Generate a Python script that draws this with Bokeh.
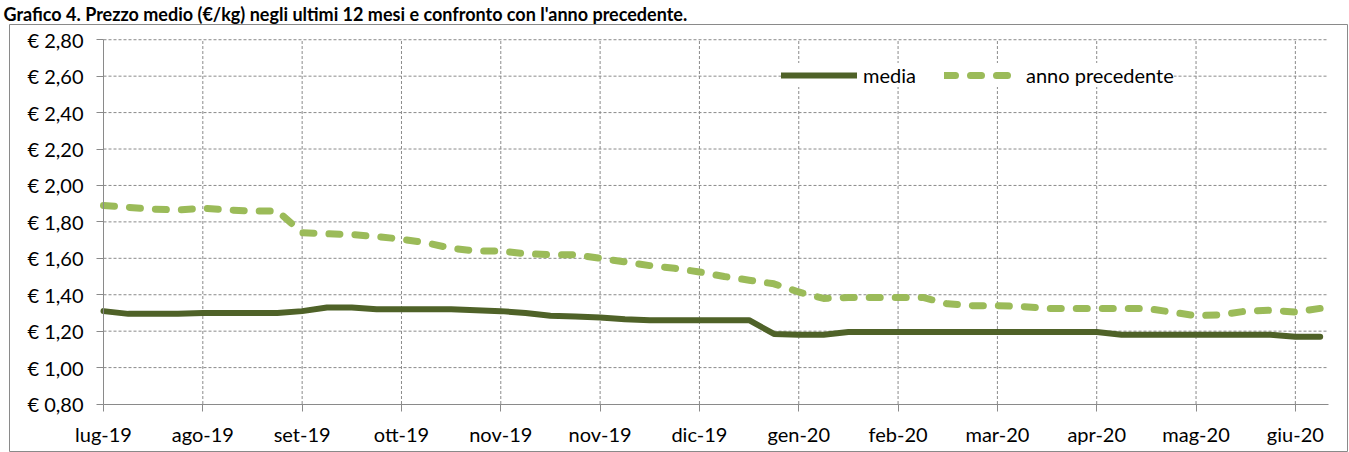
from bokeh.plotting import figure
from bokeh.models import Range1d, FixedTicker, CustomJSTickFormatter, Legend, LegendItem, Title
from bokeh.embed import file_html
from bokeh.resources import INLINE

# ---------------- data ----------------
title_text = "Grafico 4. Prezzo medio  (€/kg) negli ultimi 12 mesi e confronto con l'anno precedente."
x_tick_pos = [0, 4, 8, 12, 16, 20, 24, 28, 32, 36, 40, 44, 48]
x_labels = ["lug-19", "ago-19", "set-19", "ott-19", "nov-19", "nov-19", "dic-19",
            "gen-20", "feb-20", "mar-20", "apr-20", "mag-20", "giu-20"]
y_ticks = [0.8, 1.0, 1.2, 1.4, 1.6, 1.8, 2.0, 2.2, 2.4, 2.6, 2.8]
weeks = list(range(50))
media = [1.31, 1.295, 1.295, 1.295, 1.30, 1.30, 1.30, 1.30, 1.31, 1.33,
         1.33, 1.32, 1.32, 1.32, 1.32, 1.315, 1.31, 1.30, 1.285, 1.28,
         1.275, 1.265, 1.26, 1.26, 1.26, 1.26, 1.26, 1.185, 1.18, 1.18,
         1.195, 1.195, 1.195, 1.195, 1.195, 1.195, 1.195, 1.195, 1.195, 1.195,
         1.195, 1.18, 1.18, 1.18, 1.18, 1.18, 1.18, 1.18, 1.17, 1.17]
anno_precedente = [1.89, 1.88, 1.87, 1.865, 1.875, 1.865, 1.86, 1.86, 1.74, 1.735,
                   1.73, 1.72, 1.705, 1.685, 1.655, 1.64, 1.64, 1.625, 1.62, 1.62,
                   1.60, 1.58, 1.56, 1.545, 1.525, 1.50, 1.48, 1.46, 1.415, 1.38,
                   1.385, 1.385, 1.385, 1.385, 1.35, 1.34, 1.34, 1.335, 1.325, 1.325,
                   1.325, 1.325, 1.325, 1.305, 1.285, 1.29, 1.31, 1.315, 1.305, 1.325]
series_names = ["media", "anno precedente"]

# plot-area extent (data units)
X_END = 49.33
Y_MIN, Y_MAX = 0.8, 2.8

FONT = "Lato"
GRID = "#8a8a8a"

# the frame acts as the outer box of the chart; axes sit inside it
p = figure(width=1349, height=452, output_backend="svg", toolbar_location=None,
           x_range=Range1d(-3.786, 50.10), y_range=Range1d(0.5339, 2.8836),
           min_border_left=9, min_border_right=2, min_border_top=22,
           min_border_bottom=0)
p.outline_line_color = GRID
p.outline_line_width = 1
p.background_fill_color = "white"
p.border_fill_color = "white"
p.xgrid.visible = False
p.ygrid.visible = False

# title in the strip above the chart box
p.title = Title(text=title_text, align="left", offset=-6, standoff=0,
                text_font=FONT, text_font_style="bold", text_font_size="18px",
                text_color="black")

# dashed gridlines limited to the plot area
p.segment(x0=[0] * (len(y_ticks) - 1), y0=y_ticks[1:],
          x1=[X_END] * (len(y_ticks) - 1), y1=y_ticks[1:],
          line_color=GRID, line_width=1, line_dash="3 2")
p.segment(x0=x_tick_pos[1:], y0=[Y_MIN] * (len(x_tick_pos) - 1),
          x1=x_tick_pos[1:], y1=[Y_MAX] * (len(x_tick_pos) - 1),
          line_color=GRID, line_width=1, line_dash="3 2")

# axes
xa, ya = p.xaxis[0], p.yaxis[0]
xa.fixed_location = Y_MIN
xa.bounds = (0, X_END)
ya.fixed_location = 0
ya.bounds = (Y_MIN, Y_MAX)
xa.ticker = FixedTicker(ticks=x_tick_pos)
xa.major_label_overrides = {t: l for t, l in zip(x_tick_pos, x_labels)}
ya.ticker = FixedTicker(ticks=y_ticks)
ya.formatter = CustomJSTickFormatter(code='return "€ " + tick.toFixed(2).replace(".", ",");')
for ax in (xa, ya):
    ax.axis_line_color = GRID
    ax.major_tick_line_color = GRID
    ax.major_tick_out = 7
    ax.major_tick_in = 0
    ax.minor_tick_line_color = None
    ax.major_label_text_font = FONT
    ax.major_label_text_font_size = "20px"
    ax.major_label_text_color = "black"
xa.major_label_standoff = 11
ya.major_label_standoff = 13

r_med = p.line(weeks, media, line_color="#4F6228", line_width=6,
               line_join="round", line_cap="round")
r_prev = p.line(weeks, anno_precedente, line_color="#9BBB59", line_width=7,
                line_dash="11 15", line_cap="round", line_join="round")

legend = Legend(items=[LegendItem(label=series_names[0], renderers=[r_med]),
                       LegendItem(label=series_names[1], renderers=[r_prev])],
                orientation="horizontal", location=(772, 365),
                glyph_width=76, glyph_height=20, label_standoff=6, spacing=28,
                padding=8, margin=0, border_line_color=None,
                background_fill_color="white", background_fill_alpha=1.0,
                label_text_font=FONT, label_text_font_size="20px",
                label_text_color="black")
p.add_layout(legend)

open("out.html", "w").write(file_html(p, INLINE))
